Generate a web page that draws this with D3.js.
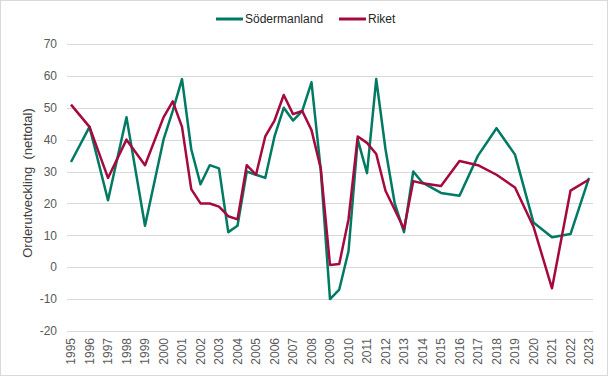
<!DOCTYPE html>
<html>
<head>
  <meta charset="utf-8">
  <script src="https://cdnjs.cloudflare.com/ajax/libs/d3/7.8.5/d3.min.js" type="text/javascript"></script>
  <style>
    body { margin: 0; background: #fff; }
    text { font-family: "Liberation Sans", Arial, sans-serif; }
  </style>
</head>
<body>
  <svg id="chart" width="608" height="376"></svg>
  <script>

// periods (years, half years from 2000 to 2014)
var period = [1995, 1996, 1997, 1998, 1999, 2000, 2000.5, 2001, 2001.5, 2002, 2002.5,
  2003, 2003.5, 2004, 2004.5, 2005, 2005.5, 2006, 2006.5, 2007, 2007.5, 2008, 2008.5,
  2009, 2009.5, 2010, 2010.5, 2011, 2011.5, 2012, 2012.5, 2013, 2013.5, 2014,
  2015, 2016, 2017, 2018, 2019, 2020, 2021, 2022, 2023];

var sodermanland = [33, 44, 21, 47, 13, 40, 49, 59, 37, 26, 32,
  31, 11, 13, 30, 29, 28, 41, 50, 46, 49, 58, 30.5,
  -10, -7, 5, 40, 29.5, 59, 37, 20, 11, 30, 26.5,
  23.3, 22.4, 35, 43.6, 35.3, 14, 9.4, 10.4, 28];

var riket = [51, 44, 28, 40, 32, 47, 52, 44, 24.5, 20, 20,
  19, 16, 15, 32, 29, 41, 46, 54, 48, 49, 43, 31,
  0.7, 1, 15, 41, 39, 35.5, 24, 18, 12, 27, 26.3,
  25.5, 33.3, 32, 29, 25, 12.7, -6.6, 24, 27.5];

var yearLabels = d3.range(1995, 2024);
var yTicks = [-20, -10, 0, 10, 20, 30, 40, 50, 60, 70];

var seriesNames = ["Södermanland", "Riket"];
var seriesColors = ["#007a62", "#a6093d"];

var svg = d3.select("#chart");
var width = 608, height = 376;

// outer border
svg.append("rect")
  .attr("x", 0.5).attr("y", 0.5)
  .attr("width", width - 1).attr("height", height - 1)
  .attr("fill", "#fff")
  .attr("stroke", "#d9d9d9");

var plotLeft = 67, plotRight = 593;

var x = d3.scaleLinear()
  .domain([1995, 2023])
  .range([71, 589]);

var y = d3.scaleLinear()
  .domain([-20, 70])
  .range([331, 44]);

// gridlines
svg.append("g")
  .selectAll("line")
  .data(yTicks)
  .enter().append("line")
  .attr("x1", plotLeft).attr("x2", plotRight)
  .attr("y1", function(d) { return Math.round(y(d)) + 0.5; })
  .attr("y2", function(d) { return Math.round(y(d)) + 0.5; })
  .attr("stroke", "#d9d9d9")
  .attr("stroke-width", 1);

// y tick labels
svg.append("g")
  .selectAll("text")
  .data(yTicks)
  .enter().append("text")
  .attr("x", 57)
  .attr("y", function(d) { return y(d); })
  .attr("dy", "0.35em")
  .attr("text-anchor", "end")
  .attr("fill", "#595959")
  .style("font-size", "12px")
  .text(function(d) { return d; });

// x tick labels (rotated)
svg.append("g")
  .selectAll("text")
  .data(yearLabels)
  .enter().append("text")
  .attr("transform", function(d) { return "translate(" + x(d) + ",338) rotate(-90)"; })
  .attr("dy", "0.35em")
  .attr("text-anchor", "end")
  .attr("fill", "#595959")
  .style("font-size", "12px")
  .text(function(d) { return d; });

// y axis title
svg.append("text")
  .attr("transform", "translate(27,183) rotate(-90)")
  .attr("text-anchor", "middle")
  .attr("dy", "0.35em")
  .attr("fill", "#404040")
  .style("font-size", "13px")
  .style("white-space", "pre")
  .text("Orderutveckling  (nettotal)");

var line = d3.line()
  .x(function(d) { return x(d[0]); })
  .y(function(d) { return y(d[1]); });

[sodermanland, riket].forEach(function(vals, i) {
  svg.append("path")
    .datum(period.map(function(p, j) { return [p, vals[j]]; }))
    .attr("d", line)
    .attr("fill", "none")
    .attr("stroke", seriesColors[i])
    .attr("stroke-width", 2.5)
    .attr("stroke-linejoin", "round");
});

// legend
var legendX = [216, 339];
var legend = svg.append("g")
  .selectAll("g")
  .data(seriesNames)
  .enter().append("g")
  .attr("transform", function(d, i) { return "translate(" + legendX[i] + ",19)"; });

legend.append("line")
  .attr("x1", 0).attr("x2", 27)
  .attr("stroke", function(d, i) { return seriesColors[i]; })
  .attr("stroke-width", 3);

legend.append("text")
  .attr("x", 29)
  .attr("dy", "0.35em")
  .attr("fill", "#262626")
  .style("font-size", "12px")
  .text(function(d) { return d; });

  </script>
</body>
</html>
